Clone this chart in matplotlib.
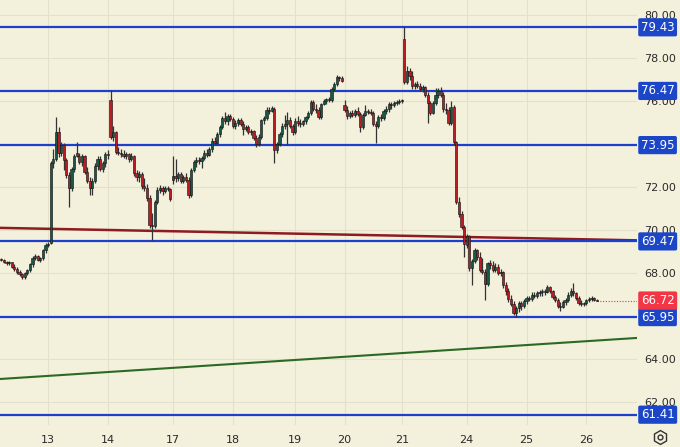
import matplotlib
matplotlib.use("Agg")
import matplotlib.pyplot as plt
import matplotlib.transforms as mtransforms
import numpy as np

# ---------------- data ----------------
opens = [68.62, 68.60, 68.50, 68.45, 68.50, 68.30, 68.20, 68.05, 67.95, 67.80,
         67.98, 68.15, 68.40, 68.72, 68.80, 68.62, 68.68, 69.05, 69.30, 69.40,
         73.10, 73.30, 74.55, 73.60, 73.95, 73.25, 72.55, 71.95, 72.85, 73.60,
         73.45, 73.15, 73.45, 72.70, 72.30, 71.95, 72.30, 73.00, 73.30, 72.85,
         73.10, 73.55, 76.05, 74.35, 74.55, 73.65, 73.60, 73.55, 73.45, 73.55,
         73.30, 73.45, 72.65, 72.45, 72.60, 72.05, 71.95, 71.50, 70.25, 70.20,
         71.30, 71.85, 71.95, 71.80, 71.95, 71.90, 72.35, 72.50, 72.40, 72.60,
         72.30, 72.45, 72.35, 71.65, 72.80, 73.15, 73.25, 73.20, 73.35, 73.60,
         73.50, 73.75, 74.15, 74.05, 74.45, 74.80, 75.20, 75.05, 75.30, 75.15,
         74.85, 75.00, 75.10, 74.95, 74.70, 74.80, 74.55, 74.60, 74.30, 74.00,
         74.35, 75.10, 75.20, 75.60, 75.55, 75.65, 73.72, 74.00, 74.45, 74.85,
         74.95, 75.10, 74.85, 74.55, 75.05, 75.00, 74.95, 75.05, 75.25, 75.45,
         75.95, 75.65, 75.60, 75.25, 75.85, 76.00, 76.10, 76.05, 76.55, 76.80,
         77.10, 77.05, 75.80, 75.60, 75.30, 75.45, 75.35, 75.55, 75.40, 74.80,
         75.35, 75.55, 75.50, 75.45, 74.95, 74.85, 75.25, 75.20, 75.55, 75.65,
         75.85, 75.80, 75.90, 75.95, 76.00, 78.90, 76.90, 77.40, 77.15, 76.70,
         76.80, 76.70, 76.55, 76.65, 76.30, 75.90, 75.45, 75.90, 76.30, 76.45,
         76.30, 75.65, 75.60, 75.00, 75.70, 74.10, 71.30, 70.75, 70.15, 69.30,
         69.70, 68.25, 68.55, 69.05, 68.75, 68.15, 68.05, 67.50, 68.45, 68.35,
         68.15, 68.30, 68.00, 68.05, 67.45, 67.15, 66.80, 66.55, 66.15, 66.35,
         66.60, 66.45, 66.70, 66.85, 66.80, 67.00, 66.95, 67.05, 67.10, 67.15,
         67.10, 67.35, 67.15, 66.90, 66.75, 66.45, 66.40, 66.65, 66.75, 67.00,
         67.15, 67.05, 66.85, 66.60, 66.55, 66.60, 66.75, 66.80, 66.85, 66.75]

highs = [68.70, 68.65, 68.58, 68.55, 68.52, 68.40, 68.28, 68.15, 68.00, 68.05,
         68.20, 68.45, 68.80, 68.90, 68.85, 68.75, 69.10, 69.40, 69.45, 73.20,
         73.75, 75.26, 74.80, 74.10, 74.05, 73.35, 72.70, 72.95, 73.55, 74.10,
         73.60, 73.55, 73.50, 72.95, 72.45, 72.40, 73.10, 73.45, 73.45, 73.20,
         73.65, 73.70, 76.51, 74.85, 74.60, 73.85, 73.75, 73.70, 73.65, 73.60,
         73.60, 73.50, 72.80, 72.75, 72.70, 72.40, 72.15, 71.65, 70.80, 71.40,
         72.00, 72.10, 72.05, 72.05, 72.05, 71.95, 73.45, 73.30, 72.70, 72.70,
         72.55, 72.65, 72.45, 72.90, 73.25, 73.40, 73.40, 73.45, 73.70, 73.75,
         73.85, 74.30, 74.35, 74.55, 74.90, 75.30, 75.50, 75.40, 75.40, 75.25,
         75.10, 75.20, 75.20, 75.05, 74.90, 74.90, 74.70, 74.65, 74.40, 74.45,
         75.15, 75.30, 75.70, 75.72, 75.75, 75.70, 74.10, 74.55, 75.00, 75.35,
         75.50, 75.25, 74.95, 75.20, 75.30, 75.15, 75.10, 75.30, 75.55, 76.05,
         76.05, 75.85, 75.70, 75.90, 76.10, 76.15, 76.20, 76.65, 76.90, 77.20,
         77.18, 77.15, 76.05, 75.75, 75.55, 75.60, 75.65, 75.70, 75.50, 75.45,
         75.80, 75.65, 75.65, 75.55, 75.05, 75.35, 75.40, 75.65, 75.75, 75.95,
         75.95, 76.00, 76.05, 76.10, 76.10, 79.43, 77.65, 77.55, 77.40, 76.90,
         76.95, 76.85, 76.75, 76.70, 76.40, 76.00, 76.00, 76.60, 76.60, 76.65,
         76.40, 75.90, 75.70, 76.00, 75.80, 74.15, 71.55, 70.90, 70.25, 69.80,
         69.75, 68.65, 69.15, 69.10, 69.00, 68.70, 68.20, 68.50, 68.60, 68.55,
         68.45, 68.40, 68.20, 68.10, 67.60, 67.30, 67.00, 66.70, 66.45, 66.70,
         66.70, 66.80, 66.95, 66.95, 67.10, 67.10, 67.15, 67.20, 67.25, 67.25,
         67.45, 67.40, 67.20, 67.00, 66.85, 66.65, 66.75, 66.85, 67.10, 67.30,
         67.55, 67.10, 66.95, 66.75, 66.65, 66.80, 66.90, 66.95, 66.90, 66.80]

lows = [68.55, 68.45, 68.38, 68.35, 68.25, 68.10, 67.95, 67.85, 67.72, 67.70,
        67.90, 68.05, 68.30, 68.60, 68.55, 68.50, 68.62, 68.95, 69.20, 69.35,
        72.90, 73.20, 73.40, 73.45, 72.80, 72.40, 71.07, 71.80, 72.70, 73.40,
        73.05, 73.00, 72.60, 72.20, 71.63, 71.65, 72.20, 72.80, 72.75, 72.70,
        72.95, 73.30, 74.25, 74.15, 73.55, 73.50, 73.40, 73.35, 73.30, 73.15,
        73.20, 72.50, 72.30, 72.25, 71.90, 71.80, 71.35, 70.10, 69.53, 70.10,
        71.20, 71.70, 71.65, 71.70, 71.80, 71.35, 72.15, 72.25, 72.30, 72.20,
        72.20, 72.25, 71.50, 71.55, 72.70, 72.95, 73.05, 72.90, 73.25, 73.40,
        73.45, 73.65, 73.95, 73.95, 74.35, 74.70, 74.95, 74.90, 75.05, 74.75,
        74.70, 74.85, 74.85, 74.40, 74.60, 74.45, 74.40, 74.20, 73.86, 73.90,
        74.25, 74.95, 75.10, 75.40, 75.50, 73.12, 73.60, 73.90, 74.35, 74.70,
        73.95, 74.75, 74.40, 74.45, 74.85, 74.80, 74.85, 74.95, 75.15, 75.35,
        75.55, 75.45, 75.15, 75.15, 75.80, 75.85, 75.95, 75.95, 76.45, 76.70,
        76.95, 76.90, 75.50, 75.15, 75.20, 75.25, 75.25, 75.30, 74.56, 74.70,
        75.30, 75.40, 75.35, 74.85, 74.05, 74.75, 75.05, 75.10, 75.40, 75.50,
        75.65, 75.70, 75.80, 75.85, 75.90, 76.80, 76.80, 77.00, 76.55, 76.55,
        76.60, 76.45, 76.40, 76.20, 75.00, 75.35, 75.40, 75.80, 76.15, 76.20,
        75.50, 75.40, 74.90, 74.90, 73.95, 71.20, 70.60, 70.05, 68.75, 69.15,
        68.10, 67.45, 68.45, 68.60, 68.05, 67.95, 66.75, 67.40, 68.20, 68.05,
        68.05, 67.90, 67.85, 67.30, 67.00, 66.65, 66.45, 66.05, 65.95, 66.20,
        66.30, 66.35, 66.55, 66.70, 66.70, 66.85, 66.85, 66.95, 66.95, 67.00,
        67.05, 67.05, 66.80, 66.65, 66.35, 66.23, 66.35, 66.50, 66.65, 66.90,
        66.95, 66.75, 66.50, 66.45, 66.45, 66.50, 66.65, 66.70, 66.70, 66.70]

closes = [68.60, 68.50, 68.45, 68.50, 68.30, 68.20, 68.05, 67.95, 67.80, 67.98,
          68.15, 68.40, 68.72, 68.80, 68.62, 68.68, 69.05, 69.30, 69.35, 73.10,
          73.30, 74.55, 73.60, 73.95, 73.25, 72.55, 71.95, 72.85, 73.45, 73.45,
          73.15, 73.45, 72.70, 72.30, 71.95, 72.30, 73.00, 73.30, 72.85, 73.10,
          73.55, 73.50, 74.35, 74.55, 73.65, 73.60, 73.55, 73.45, 73.55, 73.30,
          73.45, 72.65, 72.45, 72.60, 72.05, 71.95, 71.50, 70.25, 70.20, 71.30,
          71.85, 71.95, 71.80, 71.95, 71.90, 71.45, 72.50, 72.40, 72.60, 72.30,
          72.45, 72.35, 71.65, 72.80, 73.15, 73.25, 73.20, 73.35, 73.60, 73.50,
          73.75, 74.15, 74.05, 74.45, 74.80, 75.20, 75.05, 75.30, 75.15, 74.85,
          75.00, 75.10, 74.95, 74.70, 74.80, 74.55, 74.60, 74.30, 74.00, 74.35,
          75.10, 75.20, 75.60, 75.55, 75.68, 73.72, 74.00, 74.45, 74.85, 74.95,
          75.10, 74.85, 74.55, 75.05, 75.00, 74.95, 75.05, 75.25, 75.45, 75.95,
          75.65, 75.60, 75.25, 75.85, 76.00, 76.10, 76.05, 76.55, 76.80, 77.10,
          77.05, 76.95, 75.60, 75.30, 75.45, 75.35, 75.55, 75.40, 74.80, 75.35,
          75.55, 75.50, 75.45, 74.95, 74.85, 75.25, 75.20, 75.55, 75.65, 75.85,
          75.80, 75.90, 75.95, 76.00, 76.05, 76.90, 77.40, 77.15, 76.70, 76.80,
          76.70, 76.55, 76.65, 76.30, 75.90, 75.45, 75.90, 76.30, 76.45, 76.30,
          75.65, 75.60, 75.00, 75.70, 74.10, 71.30, 70.75, 70.15, 69.35, 69.70,
          68.25, 68.55, 69.05, 68.75, 68.15, 68.05, 67.50, 68.45, 68.35, 68.15,
          68.30, 68.00, 68.05, 67.45, 67.15, 66.80, 66.55, 66.15, 66.35, 66.60,
          66.45, 66.70, 66.85, 66.80, 67.00, 66.95, 67.05, 67.10, 67.15, 67.10,
          67.35, 67.15, 66.90, 66.75, 66.45, 66.40, 66.65, 66.75, 67.00, 67.15,
          67.05, 66.85, 66.60, 66.55, 66.60, 66.75, 66.80, 66.85, 66.75, 66.72]

levels = [79.43, 76.47, 73.95, 69.47, 65.95, 61.41]
last_price = 66.72
day_labels = ["13", "14", "17", "18", "19", "20", "21", "24", "25", "26"]
day_pos = [18, 41, 66, 89, 113, 132, 154, 179, 202, 225]
price_ticks = [62, 64, 68, 70, 72, 76, 78, 80]
grid_prices = [62, 64, 66, 68, 70, 72, 74, 76, 78, 80]
red_trend = [70.10, 69.52]     # value at left edge, right edge
green_trend = [63.07, 64.98]   # value at left edge, right edge

# ---------------- styling ----------------
BG = "#f3f0dc"
GRID = "#e4e0c9"
BULL = "#145a48"
BEAR = "#b81d24"
LEVEL = "#1d3fcc"
LABEL_BG = "#1b46c8"
LAST = "#f23645"

fig = plt.figure(figsize=(6.8, 4.47), dpi=100, facecolor=BG)
ax = fig.add_axes([0, 22 / 447, 637 / 680, 425 / 447], facecolor=BG)

n = len(closes)
x = np.arange(n)
xmin, xmax = -0.5, 637 / 2.6 - 0.5
ax.set_xlim(xmin, xmax)
ax.set_ylim(60.93, 80.70)

for v in grid_prices:
    ax.axhline(v, color=GRID, lw=0.8, zorder=0)
for p in day_pos:
    ax.axvline(p, color=GRID, lw=0.8, zorder=0)

# trend lines
ax.plot([xmin, xmax], red_trend, color="#8e1b1f", lw=1.8, zorder=2, solid_capstyle="butt")
ax.plot([xmin, xmax], green_trend, color="#2c6a23", lw=1.5, zorder=2, solid_capstyle="butt")

# horizontal levels
for lv in levels:
    ax.axhline(lv, color=LEVEL, lw=1.6, zorder=2)

# candles
o = np.array(opens); h = np.array(highs); l = np.array(lows); c = np.array(closes)
up = c >= o
cols = np.where(up, BULL, BEAR)
ax.vlines(x, l, h, color="#333333", lw=0.9, zorder=3)
body_bottom = np.minimum(o, c)
body_h = np.maximum(np.abs(c - o), 0.03)
ax.bar(x, body_h, bottom=body_bottom, width=0.8, color=cols,
       edgecolor="#111111", linewidth=0.4, zorder=4)

# last price dotted line
ax.plot([n - 1, xmax], [last_price, last_price], color=LAST, lw=0.8,
        ls=(0, (1, 1.5)), zorder=2)

# axes styling
for s in ax.spines.values():
    s.set_visible(False)
ax.yaxis.tick_right()
ax.set_yticks(price_ticks)
ax.set_yticklabels([f"{v:.2f}" for v in price_ticks])
ax.tick_params(axis="y", length=0, pad=5, labelsize=8, labelcolor="#2a2a2a")
ax.set_xticks(day_pos)
ax.set_xticklabels(day_labels)
ax.tick_params(axis="x", length=0, pad=7, labelsize=8, labelcolor="#2a2a2a")

# price labels on the axis
trans = mtransforms.blended_transform_factory(ax.transAxes, ax.transData)
for lv in levels:
    ax.text(1.006, lv, f"{lv:.2f}", transform=trans, ha="left", va="center",
            color="white", fontsize=8.5, clip_on=False, zorder=6,
            bbox=dict(boxstyle="round,pad=0.22,rounding_size=0.15", fc=LABEL_BG, ec="none"))
ax.text(1.006, last_price, f"{last_price:.2f}", transform=trans, ha="left", va="center",
        color="white", fontsize=8.5, clip_on=False, zorder=6,
        bbox=dict(boxstyle="round,pad=0.22,rounding_size=0.15", fc=LAST, ec="none"))

# settings icon
ax.plot([1.036], [-0.028], marker="h", ms=10, mfc="none", mec="#333333", mew=1.0,
        transform=ax.transAxes, clip_on=False)
ax.plot([1.036], [-0.028], marker="o", ms=3.5, mfc="none", mec="#333333", mew=1.0,
        transform=ax.transAxes, clip_on=False)

fig.savefig("out.png", dpi=100, facecolor=BG)
